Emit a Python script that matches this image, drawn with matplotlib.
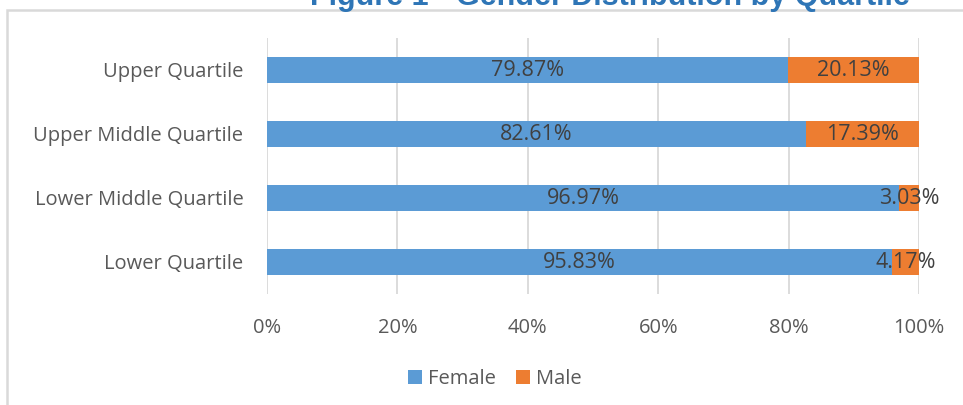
import matplotlib.pyplot as plt
from matplotlib.patches import Rectangle
import numpy as np

# Data (bottom to top)
quartiles = ['Lower Quartile', 'Lower Middle Quartile', 'Upper Middle Quartile', 'Upper Quartile']
female = [95.83, 96.97, 82.61, 79.87]
male = [4.17, 3.03, 17.39, 20.13]
xticks = [0, 20, 40, 60, 80, 100]

blue = '#5B9BD5'
orange = '#ED7D31'
text_col = '#595959'
label_col = '#404040'
grid_col = '#D9D9D9'

plt.rcParams['font.family'] = ['Open Sans', 'DejaVu Sans']
fs = 14.5

W, H = 963, 405
fig = plt.figure(figsize=(W / 100, H / 100), dpi=100)

# axes in pixel positions
left, right, top, bottom = 267, 919, 38, 294
ax = fig.add_axes([left / W, 1 - bottom / H, (right - left) / W, (bottom - top) / H])

y = np.arange(len(quartiles))
ax.barh(y, female, height=0.4, color=blue, label='Female', zorder=3)
ax.barh(y, male, left=female, height=0.4, color=orange, label='Male', zorder=3)

for i in range(len(quartiles)):
    ax.text(female[i] / 2, y[i], f'{female[i]:.2f}%', ha='center', va='center',
            fontsize=15.5, color=label_col, zorder=4)
    ax.text(female[i] + male[i] / 2, y[i], f'{male[i]:.2f}%', ha='center', va='center',
            fontsize=15.5, color=label_col, zorder=4)

ax.set_xlim(0, 100)
ax.set_ylim(-0.5, len(quartiles) - 0.5)
ax.set_xticks(xticks)
ax.set_xticklabels([f'{v}%' for v in xticks])
ax.set_yticks(y)
ax.set_yticklabels(quartiles)
ax.tick_params(axis='both', length=0, labelsize=fs, colors=text_col)
ax.tick_params(axis='x', pad=17)
ax.tick_params(axis='y', pad=17)
ax.grid(axis='x', color=grid_col, linewidth=1.3, zorder=0)
for s in ax.spines.values():
    s.set_visible(False)

leg = fig.legend(loc='center', bbox_to_anchor=(495 / W, 1 - 379 / H), ncol=2, frameon=False,
                 fontsize=fs, handlelength=0.7, handleheight=0.7, handletextpad=0.3,
                 columnspacing=1.0)
for t in leg.get_texts():
    t.set_color(text_col)

# chart border (cut at right and bottom)
fig.patches.append(Rectangle((7 / W, -0.1), 1.2, 1 - 10 / H + 0.1, transform=fig.transFigure,
                             fill=False, edgecolor=grid_col, linewidth=1.8, zorder=0))

# title (partially cut at top)
fig.text(610 / W, 1 - 5 / H, 'Figure 1 - Gender Distribution by Quartile', ha='center',
         va='baseline', fontsize=22, fontweight='bold', color='#2E75B6',
         family=['Liberation Sans', 'DejaVu Sans'])

fig.savefig('out.png', dpi=100)
